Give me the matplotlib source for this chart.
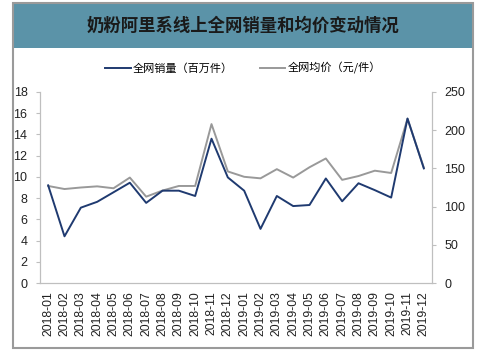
import matplotlib
matplotlib.use("Agg")
import matplotlib.pyplot as plt
from matplotlib.patches import Rectangle
import numpy as np

plt.rcParams['font.family'] = ['Noto Sans CJK SC', 'DejaVu Sans']

months = ["2018-01", "2018-02", "2018-03", "2018-04", "2018-05", "2018-06",
          "2018-07", "2018-08", "2018-09", "2018-10", "2018-11", "2018-12",
          "2019-01", "2019-02", "2019-03", "2019-04", "2019-05", "2019-06",
          "2019-07", "2019-08", "2019-09", "2019-10", "2019-11", "2019-12"]
# 全网销量（百万件）, left axis
volume = [9.2, 4.4, 7.1, 7.65, 8.55, 9.45, 7.55, 8.7, 8.7, 8.2, 13.6, 9.95,
          8.7, 5.1, 8.2, 7.25, 7.35, 9.85, 7.7, 9.4, 8.75, 8.05, 15.5, 10.8]
# 全网均价（元/件）, right axis
price = [127, 123, 125, 126.5, 124, 138, 113, 121, 127, 127, 208, 146,
         139, 137, 149, 138, 151.5, 163, 135, 140, 147, 144, 215, 151]

W, H = 486, 356
fig = plt.figure(figsize=(W / 100, H / 100), dpi=100)

# title band and outer frame
fig.add_artist(Rectangle((12 / W, (H - 48) / H), 462 / W, 45 / H,
                         transform=fig.transFigure, facecolor="#5b93a8",
                         edgecolor="none", zorder=0))
fig.add_artist(Rectangle((13 / W, (H - 348) / H), 460 / W, 345 / H,
                         transform=fig.transFigure, facecolor="none",
                         edgecolor="#9a9a9a", linewidth=1.5, zorder=1))
fig.text(243 / W, (H - 26) / H, "奶粉阿里系线上全网销量和均价变动情况",
         ha="center", va="center", fontsize=12.5, fontweight="bold",
         color="#1a1a1a")

ax = fig.add_axes([40 / W, (H - 283) / H, 392 / W, 191 / H])
ax2 = ax.twinx()

x = np.arange(len(months))
l1, = ax.plot(x, volume, color="#1f3a70", linewidth=1.4,
              label="全网销量（百万件）")
l2, = ax2.plot(x, price, color="#999999", linewidth=1.4,
               label="全网均价（元/件）")
ax.set_zorder(ax2.get_zorder() + 1)
ax.patch.set_visible(False)

ax.set_xlim(-0.5, len(months) - 0.5)
ax.set_ylim(0, 18)
ax.set_yticks(np.arange(0, 19, 2))
ax2.set_ylim(0, 250)
ax2.set_yticks(np.arange(0, 251, 50))
ax.set_xticks(x)
ax.set_xticklabels(months, rotation=90, fontsize=8.8, family="Liberation Sans",
                   color="#222222")
ax.tick_params(axis="x", length=0, pad=6)
for a in (ax, ax2):
    a.tick_params(axis="y", labelsize=9, length=3, color="#bfbfbf",
                  labelcolor="#222222", pad=6)
    for lab in a.get_yticklabels():
        lab.set_family("Liberation Sans")
    for s in a.spines.values():
        s.set_color("#bfbfbf")
    a.spines["top"].set_visible(False)

fig.legend(handles=[l1, l2], loc="center", ncol=2, frameon=False,
           bbox_to_anchor=(0.5, (H - 68) / H), fontsize=8,
           handlelength=2.3, handletextpad=0.2, columnspacing=2.4)

fig.savefig("out.png", dpi=100)
